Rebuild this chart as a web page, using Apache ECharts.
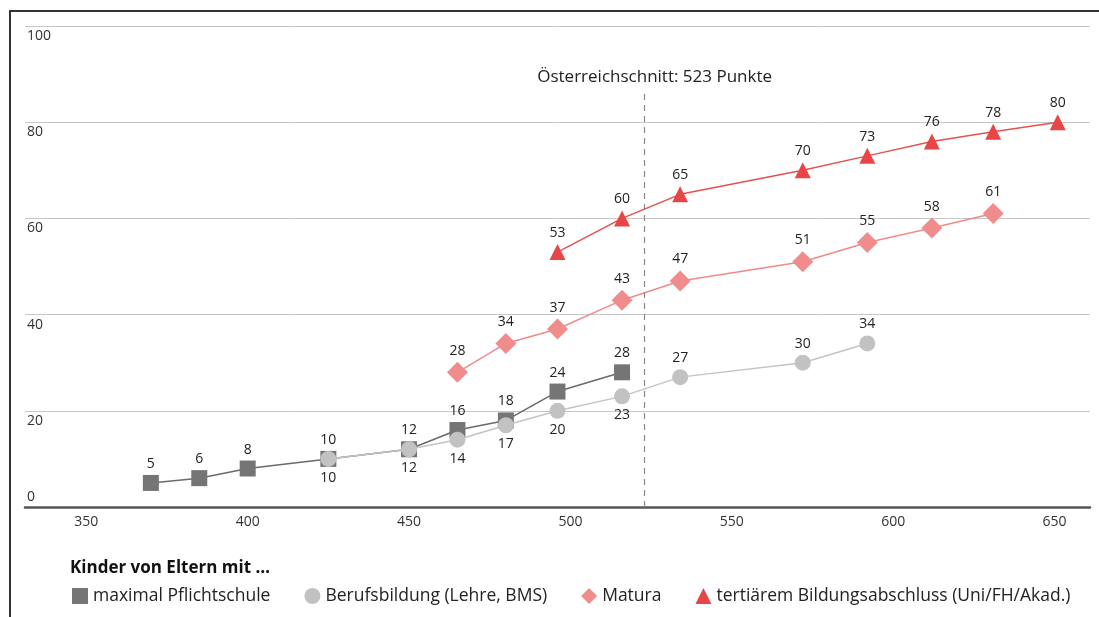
<!DOCTYPE html>
<html>
<head>
<meta charset="utf-8">
<script src="https://cdn.jsdelivr.net/npm/echarts@6/dist/echarts.min.js"></script>
<style>html,body{margin:0;padding:0;background:#fff}#c{width:1099px;height:617px}</style>
</head>
<body>
<div id="c"></div>
<script>
const seriesNames = ['maximal Pflichtschule', 'Berufsbildung (Lehre, BMS)', 'Matura', 'tertiärem Bildungsabschluss (Uni/FH/Akad.)'];
const pflichtX = [370, 385, 400, 425, 450, 465, 480, 496, 516];
const pflichtY = [5, 6, 8, 10, 12, 16, 18, 24, 28];
const berufX = [425, 450, 465, 480, 496, 516, 534, 572, 592];
const berufY = [10, 12, 14, 17, 20, 23, 27, 30, 34];
const maturaX = [465, 480, 496, 516, 534, 572, 592, 612, 631];
const maturaY = [28, 34, 37, 43, 47, 51, 55, 58, 61];
const tertX = [496, 516, 534, 572, 592, 612, 631, 651];
const tertY = [53, 60, 65, 70, 73, 76, 78, 80];
const xTicks = [350, 400, 450, 500, 550, 600, 650];
const yTicks = [0, 20, 40, 60, 80, 100];
const avgScore = 523;
const avgLabel = 'Österreichschnitt: 523 Punkte';
const legendTitle = 'Kinder von Eltern mit …';

const FONT = 'Open Sans';
const zip = (xs, ys) => xs.map((x, i) => [x, ys[i]]);
const lbl = {show: true, fontFamily: FONT, fontSize: 14, color: '#222', distance: 4};

const berufData = zip(berufX, berufY).map(p => ({
  value: p,
  label: {position: p[0] > 520 ? 'top' : 'bottom'}
}));

const chart = echarts.init(document.getElementById('c'), null, {renderer: 'canvas'});
chart.setOption({
  animation: false,
  backgroundColor: '#fff',
  textStyle: {fontFamily: FONT},
  title: {
    text: legendTitle, left: 70, top: 560, padding: 0,
    textStyle: {fontFamily: FONT, fontSize: 17, fontWeight: 'bold', color: '#111'}
  },
  legend: {
    left: 72, top: 587, width: 1025, padding: 0,
    itemWidth: 16, itemHeight: 16, itemGap: 34,
    textStyle: {fontFamily: FONT, fontSize: 17.5, color: '#222'},
    data: [
      {name: seriesNames[0], icon: 'rect'},
      {name: seriesNames[1], icon: 'circle'},
      {name: seriesNames[2], icon: 'diamond'},
      {name: seriesNames[3], icon: 'triangle'}
    ]
  },
  graphic: [{
    type: 'polyline', silent: true,
    shape: {points: [[10, 617], [10, 11], [1099, 11]]},
    style: {stroke: '#333', lineWidth: 2, fill: null}
  }],
  grid: {left: 25, right: 9, top: 26, bottom: 110, containLabel: false},
  xAxis: {
    type: 'value', min: 331, max: 661,
    axisLine: {show: true, lineStyle: {color: '#555', width: 2.5}},
    axisTick: {show: false},
    splitLine: {show: false},
    axisLabel: {customValues: xTicks, fontFamily: FONT, fontSize: 14, color: '#333', margin: 8}
  },
  yAxis: {
    type: 'value', min: 0, max: 100, interval: 20,
    axisLine: {show: false}, axisTick: {show: false},
    splitLine: {lineStyle: {color: '#c8c8c8', width: 1}},
    axisLabel: {
      inside: true, margin: 2, align: 'left',
      formatter: v => v === 0 ? '{a|0}' : '{b|' + v + '}',
      rich: {
        a: {fontFamily: FONT, fontSize: 14, color: '#333', padding: [0, 0, 20, 0]},
        b: {fontFamily: FONT, fontSize: 14, color: '#333', padding: [20, 0, 0, 0]}
      }
    }
  },
  series: [
    {
      name: seriesNames[0], type: 'line', data: zip(pflichtX, pflichtY), z: 2,
      symbol: 'rect', symbolSize: 16,
      itemStyle: {color: '#757575'}, lineStyle: {color: '#6a6a6a', width: 1.5},
      label: Object.assign({position: 'top'}, lbl),
      markLine: {
        silent: true, symbol: 'none',
        lineStyle: {color: '#888', type: [6, 5], width: 1.2},
        label: {show: true, position: 'end', formatter: avgLabel, fontFamily: FONT, fontSize: 17, color: '#222', distance: 6, padding: [0, 0, 0, 20]},
        data: [[{coord: [avgScore, 0]}, {coord: [avgScore, 86.3]}]]
      }
    },
    {
      name: seriesNames[1], type: 'line', data: berufData, z: 3,
      symbol: 'circle', symbolSize: 16,
      itemStyle: {color: '#c2c2c2'}, lineStyle: {color: '#c4c4c4', width: 1.5},
      label: Object.assign({}, lbl)
    },
    {
      name: seriesNames[2], type: 'line', data: zip(maturaX, maturaY), z: 4,
      symbol: 'diamond', symbolSize: 21,
      itemStyle: {color: '#f08c8c'}, lineStyle: {color: '#f08a8a', width: 1.5},
      label: Object.assign({position: 'top'}, lbl)
    },
    {
      name: seriesNames[3], type: 'line', data: zip(tertX, tertY), z: 5,
      symbol: 'triangle', symbolSize: 16,
      itemStyle: {color: '#e84646'}, lineStyle: {color: '#e55050', width: 1.5},
      label: Object.assign({position: 'top'}, lbl)
    }
  ]
});
</script>
</body>
</html>
